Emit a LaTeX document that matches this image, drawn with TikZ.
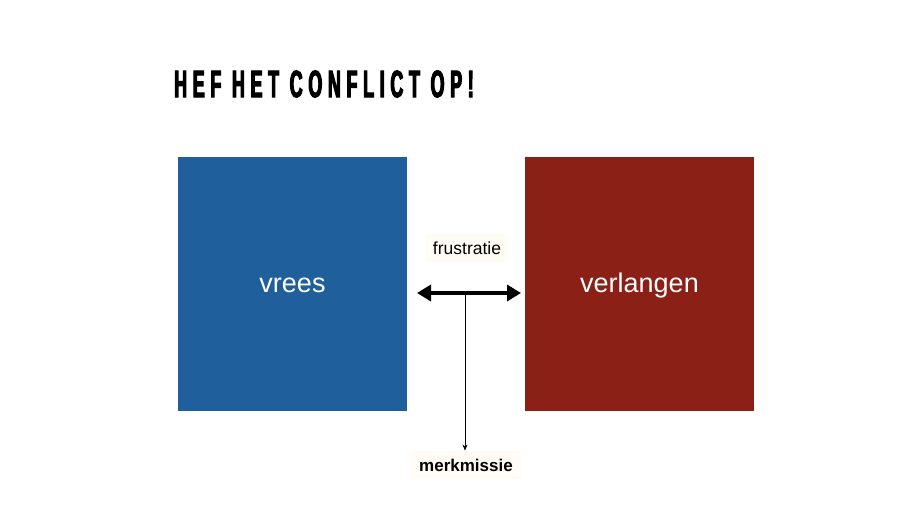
\documentclass[tikz,border=0pt]{standalone}
\usepackage{fontspec}
\setmainfont{Liberation Sans}
\newfontfamily\titlefont[FakeStretch=0.47,LetterSpace=15,FakeBold=3]{Liberation Sans Bold}
\usetikzlibrary{arrows.meta}
\definecolor{vblue}{HTML}{1F5F9C}
\definecolor{vred}{HTML}{8A2016}
\definecolor{cream}{HTML}{FFFCF5}
\begin{document}
\begin{tikzpicture}[x=1pt,y=-1pt,
  square/.style={minimum width=229pt,minimum height=254pt,inner sep=0pt,text=white,text height=18pt,text depth=0pt,font=\fontsize{27}{32}\selectfont},
  lbl/.style={fill=cream,inner sep=8pt}]
\useasboundingbox (0,0) rectangle (920,518);
\fill[white] (0,0) rectangle (920,518);
\node[anchor=west,inner sep=0pt,font=\titlefont\fontsize{38}{42}\selectfont] (title) at (174,84) {HEF HET CONFLICT OP!};
\node[square,fill=vblue] (vrees) at (292.5,284) {vrees};
\node[square,fill=vred] (verl) at (639.5,284) {verlangen};
\node[lbl,font=\fontsize{17.5}{20}\selectfont] (frus) at (467,248) {frustratie};
\node[lbl,font=\bfseries\fontsize{17}{20}\selectfont] (merk) at (466,465) {merkmissie};
\coordinate (al) at (417,293);
\coordinate (ar) at (521,293);
\draw[line width=4pt,{Triangle[length=14pt,width=16pt]}-{Triangle[length=14pt,width=16pt]}] (al) -- (ar);
\coordinate (vt) at (465,295);
\draw[line width=0.6pt,-{Stealth[length=6pt,width=5pt]}] (vt) -- (merk.north -| vt);
\end{tikzpicture}
\end{document}
